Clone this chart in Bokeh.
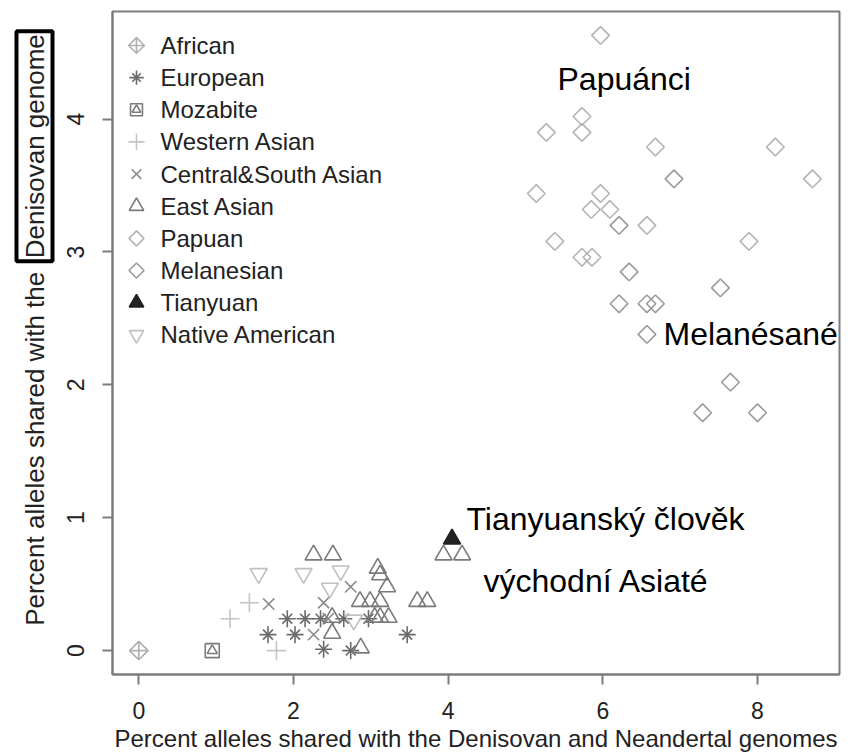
import math
from bokeh.plotting import figure
from bokeh.models import Label, Range1d
from bokeh.layouts import row
from bokeh.core.properties import value
from bokeh.embed import file_html
from bokeh.resources import INLINE

# ---- data ----
african_x = [0.0]
african_y = [0.0]
european_x = [1.67, 1.92, 2.02, 2.15, 2.35, 2.39, 2.65, 2.74, 2.97, 3.47]
european_y = [0.12, 0.24, 0.12, 0.24, 0.24, 0.01, 0.24, 0.0, 0.24, 0.12]
mozabite_x = [0.95]
mozabite_y = [0.0]
western_x = [1.18, 1.43, 1.78]
western_y = [0.24, 0.36, 0.0]
central_x = [1.68, 2.26, 2.39, 2.74, 2.45]
central_y = [0.35, 0.12, 0.36, 0.48, 0.24]
east_x = [2.26, 2.51, 3.94, 4.18, 3.09, 3.12, 3.21, 2.86, 2.99, 3.12, 3.60, 3.73,
          2.50, 3.05, 3.12, 3.23, 2.50, 2.87]
east_y = [0.72, 0.72, 0.72, 0.72, 0.62, 0.57, 0.48, 0.37, 0.37, 0.37, 0.37, 0.37,
          0.25, 0.25, 0.25, 0.25, 0.13, 0.02]
papuan_x = [5.97, 5.27, 5.73, 5.73, 6.68, 8.23, 8.71, 5.14, 5.97, 5.85, 6.09, 6.57,
            5.38, 7.89, 5.73, 5.86]
papuan_y = [4.63, 3.90, 4.02, 3.90, 3.79, 3.79, 3.55, 3.44, 3.44, 3.32, 3.32, 3.20,
            3.08, 3.08, 2.96, 2.96]
melanesian_x = [6.92, 6.21, 6.34, 7.52, 6.21, 6.57, 6.68, 6.57, 7.65, 7.29, 8.00]
melanesian_y = [3.55, 3.20, 2.85, 2.73, 2.61, 2.61, 2.61, 2.38, 2.02, 1.79, 1.79]
tianyuan_x = [4.05]
tianyuan_y = [0.84]
native_x = [1.55, 2.13, 2.61, 2.47, 2.78]
native_y = [0.58, 0.58, 0.60, 0.47, 0.23]

legend_labels = ["African", "European", "Mozabite", "Western Asian",
                 "Central&South Asian", "East Asian", "Papuan", "Melanesian",
                 "Tianyuan", "Native American"]

x_ticks = [0, 2, 4, 6, 8]
y_ticks = [0, 1, 2, 3, 4]

FONT = "Liberation Sans"
AXC = "#7c7c7c"
TXC = "#222222"

# ---- layout constants (pixels) ----
W, H = 850, 754
LEFT_W = 56
FR_L, FR_R, FR_T, FR_B = 112, 839, 11, 675
XR = (-0.34, 9.06)
YR = (-0.18, 4.81)


def px_to_x(px):
    return XR[0] + (px - FR_L) * (XR[1] - XR[0]) / (FR_R - FR_L)


def py_to_y(py):
    return YR[1] - (py - FR_T) * (YR[1] - YR[0]) / (FR_B - FR_T)


p = figure(width=W - LEFT_W, height=H, output_backend="svg", toolbar_location=None,
           x_range=Range1d(*XR), y_range=Range1d(*YR),
           min_border_left=FR_L - LEFT_W, min_border_right=W - FR_R,
           min_border_top=FR_T, min_border_bottom=H - FR_B)
p.grid.visible = False
p.outline_line_color = AXC
p.outline_line_width = 2

for ax in (p.xaxis[0], p.yaxis[0]):
    ax.axis_line_color = AXC
    ax.axis_line_width = 2
    ax.major_tick_line_color = AXC
    ax.major_tick_line_width = 2
    ax.major_tick_out = 10
    ax.major_tick_in = 0
    ax.minor_tick_line_color = None
    ax.major_label_text_font = FONT
    ax.major_label_text_font_size = "23px"
    ax.major_label_text_color = TXC
p.xaxis.ticker = x_ticks
p.yaxis.ticker = y_ticks
p.xaxis.major_label_standoff = 17
p.yaxis.major_label_standoff = 18
p.yaxis.major_label_orientation = "vertical"
p.xaxis.axis_label = "Percent alleles shared with the Denisovan and Neandertal genomes"
p.xaxis.axis_label_text_font = FONT
p.xaxis.axis_label_text_font_size = "24px"
p.xaxis.axis_label_text_font_style = "normal"
p.xaxis.axis_label_text_color = TXC
p.xaxis.axis_label_standoff = 3

LW = 1.6
# marker parts per group: (marker, size, angle, line colour, fill colour)
D = math.pi / 4
styles = {
    "African": [("square", 13, D, "#b0b0b0", None), ("cross", 19, 0, "#b0b0b0", None)],
    "European": [("cross", 17, 0, "#6a6a6a", None), ("x", 14, 0, "#6a6a6a", None)],
    "Mozabite": [("square", 14, 0, "#7a7a7a", None), ("triangle", 10, 0, "#7a7a7a", None)],
    "Western Asian": [("cross", 19, 0, "#c4c4c4", None)],
    "Central&South Asian": [("x", 16, 0, "#8c8c8c", None)],
    "East Asian": [("triangle", 17, 0, "#7a7a7a", None)],
    "Papuan": [("square", 12.5, D, "#b4b4b4", None)],
    "Melanesian": [("square", 12.5, D, "#9a9a9a", None)],
    "Tianyuan": [("triangle", 17, 0, "#222222", "#222222")],
    "Native American": [("inverted_triangle", 17, 0, "#c0c0c0", None)],
}
series = {
    "African": (african_x, african_y),
    "European": (european_x, european_y),
    "Mozabite": (mozabite_x, mozabite_y),
    "Western Asian": (western_x, western_y),
    "Central&South Asian": (central_x, central_y),
    "East Asian": (east_x, east_y),
    "Papuan": (papuan_x, papuan_y),
    "Melanesian": (melanesian_x, melanesian_y),
    "Tianyuan": (tianyuan_x, tianyuan_y),
    "Native American": (native_x, native_y),
}

for name, (xs, ys) in series.items():
    for mk, sz, ang, lc, fc in styles[name]:
        p.scatter(xs, ys, marker=mk, size=sz, angle=ang, line_color=lc,
                  fill_color=fc, line_width=LW)

# ---- legend (top-left, drawn in the plot) ----
LEG_GLYPH_PX, LEG_TEXT_PX, LEG_Y0_PX, LEG_DY_PX = 136, 160, 45, 32.2
leg_ys = [py_to_y(LEG_Y0_PX + i * LEG_DY_PX) for i in range(len(legend_labels))]
for name, ly in zip(legend_labels, leg_ys):
    for mk, sz, ang, lc, fc in styles[name]:
        p.scatter([px_to_x(LEG_GLYPH_PX)], [ly], marker=mk, size=sz * 0.85, angle=ang,
                  line_color=lc, fill_color=fc, line_width=LW)
p.text(x=[px_to_x(LEG_TEXT_PX)] * len(legend_labels), y=leg_ys, text=legend_labels,
       text_font=value(FONT), text_font_size=value("24px"), text_color=TXC,
       text_baseline="middle", text_align="left")


def lab(fig, x, y, t, size="32px", color="black", **kw):
    fig.add_layout(Label(x=x, y=y, text=t, text_font=FONT, text_font_size=size,
                         text_color=color, **kw))


# annotations
lab(p, 5.414, 4.165, "Papuánci")
lab(p, 6.785, 2.247, "Melanésané")
lab(p, 4.237, 0.857, "Tianyuanský člověk")
lab(p, 4.457, 0.387, "východní Asiaté")

# ---- y-axis title panel on the left ----
left = figure(width=LEFT_W, height=H, output_backend="svg", toolbar_location=None,
              x_range=Range1d(0, LEFT_W), y_range=Range1d(py_to_y(H), py_to_y(0)),
              min_border=0, x_axis_location=None, y_axis_location=None)
left.outline_line_color = None
left.grid.visible = False
lab(left, 34, py_to_y(296), "Percent alleles shared with the", size="26px", color=TXC,
    angle=math.pi / 2, text_align="right", text_baseline="middle")
lab(left, 34, py_to_y(284), "Denisovan genome", size="26px", color=TXC,
    angle=math.pi / 2, text_align="left", text_baseline="middle",
    border_line_color="black", border_line_width=4, padding=3)

layout = row(left, p, spacing=0)
open("out.html", "w").write(file_html(layout, INLINE))
